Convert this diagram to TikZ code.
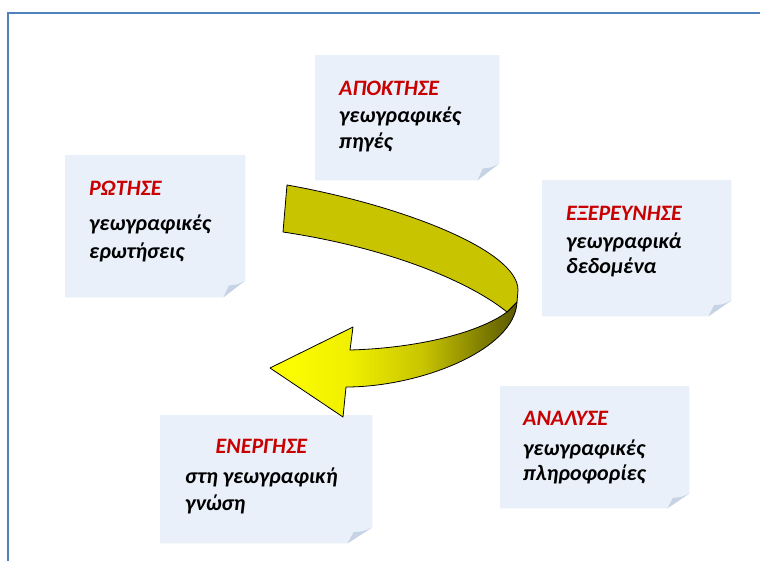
\documentclass[tikz,border=0pt]{standalone}
\usepackage{fontspec}
\setmainfont{Carlito}
\usepackage{calc}
\usetikzlibrary{positioning, backgrounds}

\definecolor{frameblue}{RGB}{79,129,189}
\definecolor{notefill}{RGB}{233,240,249}
\definecolor{notefold}{RGB}{198,211,229}
\definecolor{notered}{RGB}{200,0,0}
\definecolor{arrowyellow}{RGB}{255,255,0}
\definecolor{ribbonolive}{RGB}{200,196,0}

% shading of the underside of the ribbon (bounding box maps to 25bp--75bp)
\pgfdeclarehorizontalshading{ribbonshade}{100bp}{color(0bp)=(arrowyellow); color(25bp)=(arrowyellow);
    color(41bp)=(arrowyellow!94!black); color(56bp)=(ribbonolive); color(66bp)=(ribbonolive!70!black);
    color(75bp)=(ribbonolive!45!black); color(100bp)=(ribbonolive!45!black)}

\newcommand{\notetitle}[1]{\textcolor{notered}{#1}}

\begin{document}
\begin{tikzpicture}[x=1pt, y=-1pt, node distance=2cm]
    % Define the styles
    \tikzset{
        note/.style = {rectangle, inner sep=0pt, anchor=north west},
        notetext/.style = {inner sep=0pt, anchor=base west, align=left, font=\bfseries\itshape\fontsize{22}{26}\selectfont}, % base = last line
        ribbon/.style = {draw=black, line width=0.8pt, fill=ribbonolive, line join=round},
        ribbonside/.style = {draw=black, line width=0.8pt, shading=ribbonshade, line join=round},
    }

    \useasboundingbox (0,0) rectangle (760,560);
    \draw [frameblue, line width=1.5pt] (8,562) -- (8,13) -- (762,13);

    % Notes placement
    \node [note, minimum width=180pt, minimum height=142pt] (rotise) at (65,155) {};
    \node [note, minimum width=184pt, minimum height=125pt] (apoktise) at (315,55) {};
    \node [note, minimum width=189pt, minimum height=136pt] (exereunise) at (542,180) {};
    \node [note, minimum width=189pt, minimum height=122pt] (analyse) at (500,386) {};
    \node [note, minimum width=212pt, minimum height=128pt] (energise) at (160,415) {};

    % Texts
    \node [notetext] (rotise-text) at ([shift={(24,103)}]rotise.north west)
        {\notetitle{ΡΩΤΗΣΕ}\\[9pt] γεωγραφικές\\[2pt] ερωτήσεις};
    \node [notetext] (apoktise-text) at ([shift={(24,93)}]apoktise.north west)
        {\notetitle{ΑΠΟΚΤΗΣΕ}\\[1pt] γεωγραφικές\\ πηγές};
    \node [notetext] (exereunise-text) at ([shift={(24,93)}]exereunise.north west)
        {\notetitle{ΕΞΕΡΕΥΝΗΣΕ}\\[2pt] γεωγραφικά\\[-1pt] δεδομένα};
    \node [notetext] (analyse-text) at ([shift={(23,94)}]analyse.north west)
        {\notetitle{ΑΝΑΛΥΣΕ}\\[4pt] γεωγραφικές\\[-1pt] πληροφορίες};
    \node [notetext] (energise-text) at ([shift={(25,95)}]energise.north west)
        {\makebox[\widthof{στη γεωγραφική}]{\notetitle{ΕΝΕΡΓΗΣΕ}}\\[4pt] στη γεωγραφική\\[1pt] γνώση};

    % Paper with folded corner behind every note
    \begin{pgfonlayer}{background}
        \foreach \n/\fh/\fv in {rotise/22/17, apoktise/22/17, exereunise/23/16, analyse/22/15, energise/25/16} {
            \fill [notefill] (\n.north west) -- (\n.north east) -- ([shift={(0,-\fv)}]\n.south east)
                -- ([shift={(-\fh,0)}]\n.south east) -- (\n.south west) -- cycle;
            \fill [notefold] ([shift={(0,-\fv)}]\n.south east)
                .. controls ([shift={(-0.35*\fh,-0.75*\fv)}]\n.south east) .. ([shift={(-0.75*\fh,-0.7*\fv)}]\n.south east)
                -- ([shift={(-\fh,0)}]\n.south east) -- cycle;
        }
    \end{pgfonlayer}

    % Curved arrow: underside with the head, then the upper face
    \draw [ribbonside] (517,302) .. controls (515,350) and (420,387) .. (346,387) -- (343,417) -- (270,368)
        -- (353,327) -- (350,350) .. controls (420,348) and (480,332) .. (507,312) -- cycle;
    \draw [ribbon] (287,185) .. controls (400,205) and (518,250) .. (518,290) -- (517,302) -- (507,312)
        .. controls (470,282) and (390,248) .. (283,232) -- cycle;

\end{tikzpicture}
\end{document}
